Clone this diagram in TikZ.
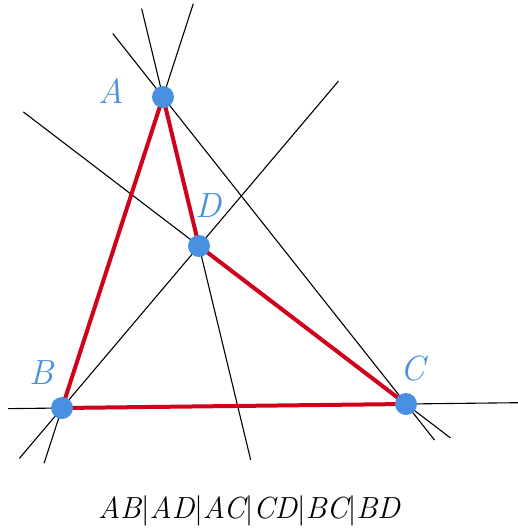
\documentclass[tikz,border=0pt]{standalone}
\usepackage{amsmath,amssymb}
\usepackage{xcolor}
\usepackage{tikz}
\usetikzlibrary{positioning,calc}
\definecolor{PTblue}{HTML}{4A90E2}
\definecolor{SEGred}{HTML}{D0021B}
\newcommand{\vbar}{{\upshape|}}

\begin{document}
\begin{tikzpicture}[x=1pt,y=-1pt,
    thinline/.style={black,line width=1.1pt},
    redseg/.style={SEGred,line width=4pt,line join=round},
    dot/.style={circle,fill=PTblue,inner sep=0pt,minimum size=22pt},
    lbl/.style={text=PTblue,font=\fontsize{35}{38}\selectfont\itshape}]
        \useasboundingbox (0,0) rectangle (518,531);
        \coordinate (A) at (163,97);
        \coordinate (B) at (62,408);
        \coordinate (C) at (406,404);
        \coordinate (D) at (199,246);
        % the six lines, extended past their points
        \draw[thinline,shorten <=-98pt,shorten >=-58pt] (A) -- (B);
        \draw[thinline,shorten <=-91pt,shorten >=-220pt] (A) -- (D);
        \draw[thinline,shorten <=-81pt,shorten >=-46pt] (A) -- (C);
        \draw[thinline,shorten <=-56pt,shorten >=-221pt] (C) -- (D);
        \draw[thinline,shorten <=-54pt,shorten >=-112pt] (B) -- (C);
        \draw[thinline,shorten <=-66pt,shorten >=-216pt] (B) -- (D);
        % red path
        \draw[redseg] (B) -- (A) -- (D) -- (C) -- cycle;
        \node[dot] (dA) at (A) {};
        \node[dot] (dB) at (B) {};
        \node[dot] (dC) at (C) {};
        \node[dot] (dD) at (D) {};
        \node[lbl] (lA) at (111,91) {A};
        \node[lbl] (lB) at (42,373) {B};
        \node[lbl] (lC) at (413,369) {C};
        \node[lbl] (lD) at (208,206) {D};
        \node[font=\fontsize{30.5}{34}\selectfont\itshape] (word) at (249,511)
            {AB\vbar AD\vbar AC\vbar CD\vbar BC\vbar BD};
      \end{tikzpicture}
\end{document}
